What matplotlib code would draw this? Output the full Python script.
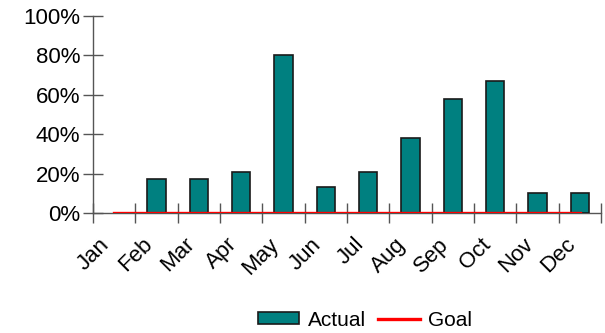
import numpy as np
import matplotlib.pyplot as plt
import matplotlib.patches as mpatches
import matplotlib.lines as mlines
import matplotlib.transforms as mtransforms

months = ['Jan', 'Feb', 'Mar', 'Apr', 'May', 'Jun', 'Jul', 'Aug', 'Sep', 'Oct', 'Nov', 'Dec']
actual = [0, 17, 17, 21, 80, 13, 21, 38, 58, 67, 10, 10]
goal = [0, 0, 0, 0, 0, 0, 0, 0, 0, 0, 0, 0]
yticks = [0, 20, 40, 60, 80, 100]

BAR_COLOR = '#008080'
EDGE_COLOR = '#1a1a1a'
GOAL_COLOR = '#ff0000'

plt.rcParams['font.family'] = ['Liberation Sans', 'DejaVu Sans']

fig = plt.figure(figsize=(6.05, 3.33), dpi=100)
ax = fig.add_axes([0.1537, 0.3604, 0.8397, 0.5916])

x = np.arange(len(months))
bars = ax.bar(x, actual, width=0.43, color=BAR_COLOR, edgecolor=EDGE_COLOR,
              linewidth=1.2, zorder=2)
# empty months show no bar outline
for b, v in zip(bars, actual):
    if v == 0:
        b.set_visible(False)
ax.plot(x, goal, color=GOAL_COLOR, linewidth=2.4, zorder=3)

ax.set_xlim(-0.5, 11.5)
ax.set_ylim(0, 100)

ax.set_yticks(yticks)
ax.set_yticklabels([f'{v}%' for v in yticks], fontsize=16)

# category boundaries carry the tick marks, centers carry the labels
ax.set_xticks(np.arange(-0.5, 12, 1))
ax.set_xticklabels([])
ax.set_xticks(x, minor=True)
ax.set_xticklabels(months, minor=True, rotation=45, ha='right',
                   rotation_mode='anchor', fontsize=16)
ax.tick_params(axis='x', which='minor', length=0, pad=15)
ax.tick_params(axis='both', which='major', direction='inout', length=14,
               color='#555555', width=1)
ax.tick_params(axis='y', pad=2)

offset = mtransforms.ScaledTranslation(-15 / 100, 0, fig.dpi_scale_trans)
for lab in ax.get_xticklabels(minor=True):
    lab.set_transform(lab.get_transform() + offset)

for s in ['top', 'right']:
    ax.spines[s].set_visible(False)
for s in ['left', 'bottom']:
    ax.spines[s].set_color('#555555')
    ax.spines[s].set_linewidth(1)
ax.spines['bottom'].set_zorder(1)

handles = [mpatches.Patch(facecolor=BAR_COLOR, edgecolor=EDGE_COLOR, linewidth=1.2),
           mlines.Line2D([], [], color=GOAL_COLOR, linewidth=2.4)]
fig.legend(handles, ['Actual', 'Goal'], loc='center',
           bbox_to_anchor=(365 / 605, 1 - 320 / 333), ncol=2,
           frameon=False, fontsize=15, handlelength=2.0, handleheight=0.5,
           columnspacing=0.6, handletextpad=0.4)

fig.savefig('out.png', dpi=100)
